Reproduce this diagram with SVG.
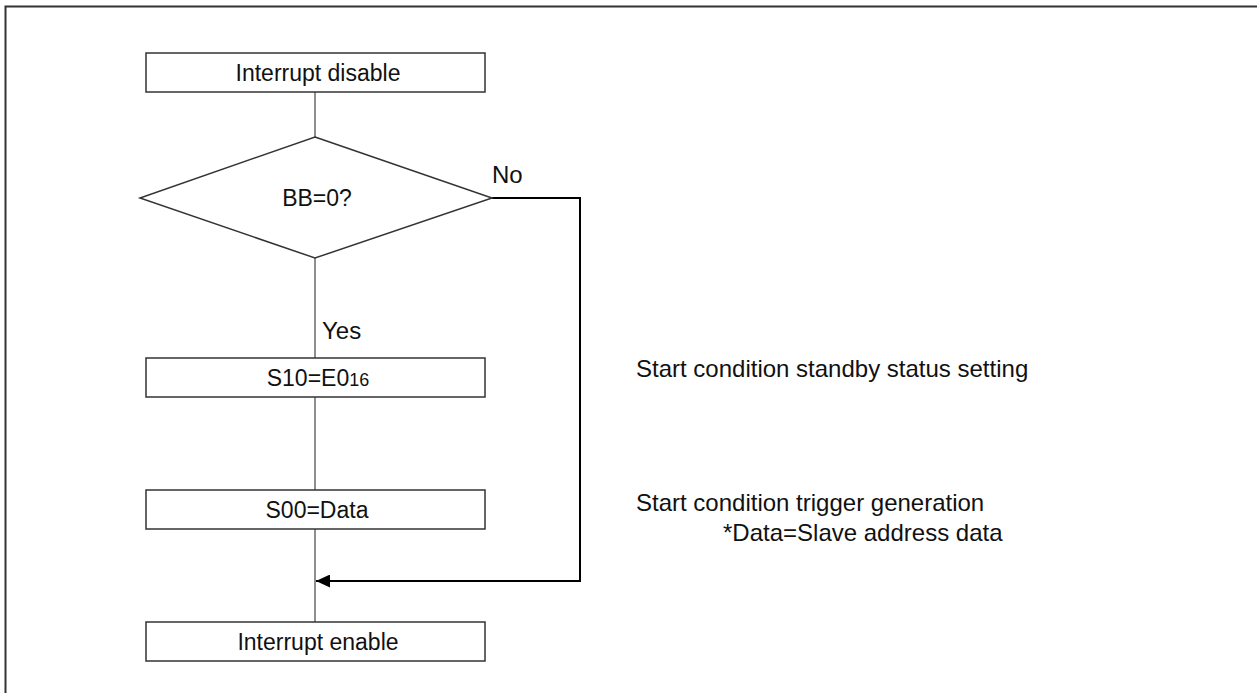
<svg xmlns="http://www.w3.org/2000/svg" width="1257" height="693" viewBox="0 0 1257 693">
<defs>
<marker id="arr" markerWidth="14" markerHeight="13" refX="14" refY="6.5" orient="auto" markerUnits="userSpaceOnUse">
<path d="M0,0 L14,6.5 L0,13 Z" fill="#000"/>
</marker>
<style>
.box{fill:#fff;stroke:#333;stroke-width:1.5}
.t{font-family:"Liberation Sans",Arial,sans-serif;font-size:24px;fill:#111}
.b{font-size:23px;text-anchor:middle}
.ln{fill:none;stroke:#444;stroke-width:1.2}
.bold{fill:none;stroke:#000;stroke-width:2}
</style>
</defs>
<rect width="1257" height="693" fill="#fff"/>
<path d="M5.5,693 V6.5 H1257" fill="none" stroke="#333" stroke-width="2"/>
<g id="connectors">
<line class="ln" x1="315" y1="92" x2="315" y2="137"/>
<line class="ln" x1="315" y1="258" x2="315" y2="358"/>
<line class="ln" x1="315" y1="397" x2="315" y2="490"/>
<line class="ln" x1="315" y1="529" x2="315" y2="622"/>
<path class="bold" d="M492,198 H580 V581 H316" marker-end="url(#arr)"/>
<text class="t" x="492" y="183">No</text>
<text class="t" x="322" y="339">Yes</text>
</g>
<g id="n1"><rect class="box" x="146" y="53" width="339" height="39"/><text class="t b" x="318" y="81">Interrupt disable</text></g>
<g id="n2"><polygon class="box" points="315,137 492,198 315,258 140,198"/><text class="t b" x="317" y="206">BB=0?</text></g>
<g id="n3"><rect class="box" x="146" y="358" width="339" height="39"/><text class="t b" x="318" y="386">S10=E0<tspan font-size="18">16</tspan></text></g>
<g id="n4"><rect class="box" x="146" y="490" width="339" height="39"/><text class="t b" x="317" y="518">S00=Data</text></g>
<g id="n5"><rect class="box" x="146" y="622" width="339" height="39"/><text class="t b" x="318" y="650">Interrupt enable</text></g>
<g id="notes">
<text class="t" x="636" y="377">Start condition standby status setting</text>
<text class="t" x="636" y="511">Start condition trigger generation</text>
<text class="t" x="723" y="541">*Data=Slave address data</text>
</g>
</svg>
